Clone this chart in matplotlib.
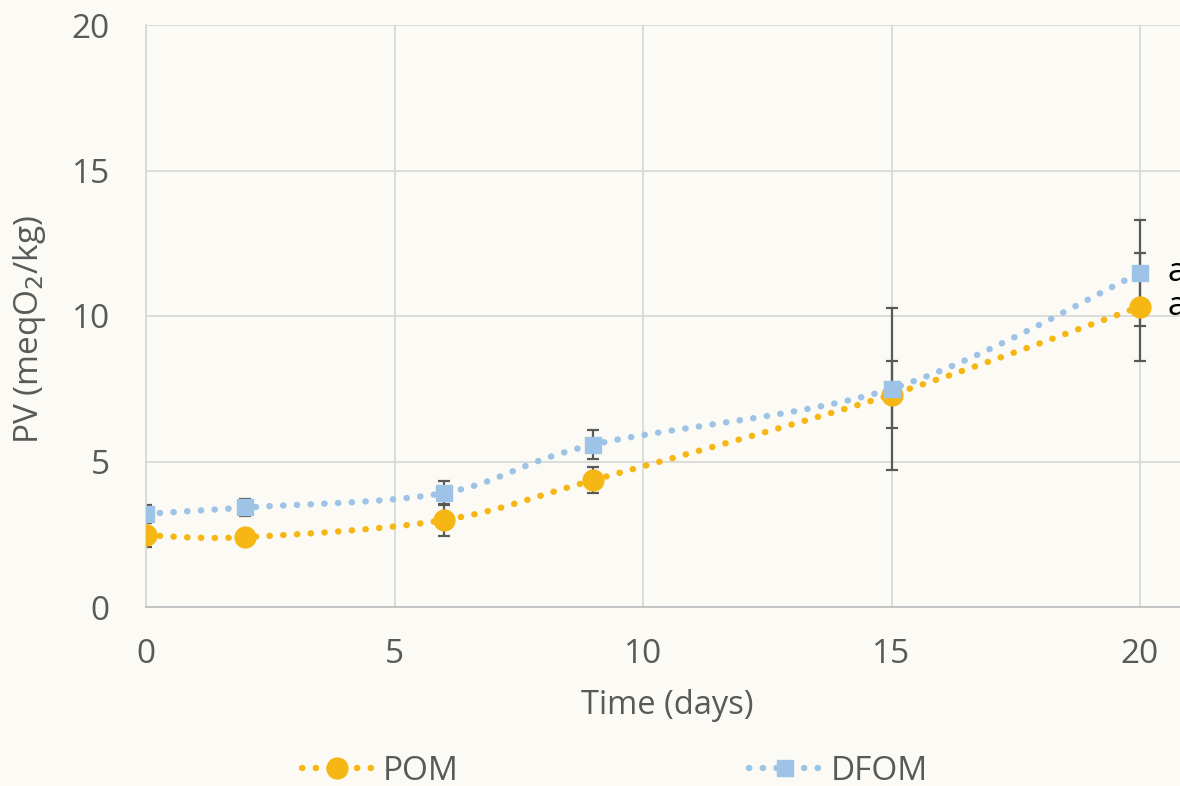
import matplotlib.pyplot as plt
import numpy as np

plt.rcParams['font.family'] = ['Open Sans', 'DejaVu Sans']

# data
days = [0, 2, 6, 9, 15, 20]
pom = [2.47, 2.4, 2.99, 4.36, 7.3, 10.32]
pom_err = [0.4, 0.15, 0.55, 0.45, 1.15, 1.85]
dfom = [3.2, 3.42, 3.92, 5.58, 7.5, 11.48]
dfom_err = [0.3, 0.29, 0.4, 0.5, 2.79, 1.83]
labels_end = ['a', 'a']

bg = '#FBFAF4'
c_pom = '#F6B614'
c_dfom = '#9DC3E6'
txt = '#595959'


def smooth(x, y, n=40):
    # Excel-style smoothed line (cubic bezier through the points)
    x = np.asarray(x, float)
    y = np.asarray(y, float)
    P = np.column_stack([x, y])
    P = np.vstack([P[0], P, P[-1]])
    out = []
    t = np.linspace(0, 1, n)[:, None]
    for i in range(1, len(P) - 2):
        p0, p1, p2, p3 = P[i - 1], P[i], P[i + 1], P[i + 2]
        c1 = p1 + (p2 - p0) / 6
        c2 = p2 - (p3 - p1) / 6
        seg = ((1 - t) ** 3) * p1 + 3 * ((1 - t) ** 2) * t * c1 + 3 * (1 - t) * t ** 2 * c2 + t ** 3 * p2
        out.append(seg)
    s = np.vstack(out)
    return s[:, 0], s[:, 1]


fig = plt.figure(figsize=(11.8, 7.86), dpi=100, facecolor=bg)
ax = fig.add_axes([146 / 1180, (786 - 607) / 786, (1180 - 146) / 1180, (607 - 25) / 786])
ax.set_facecolor(bg)

dot = (0, (0.05, 2.1))
lw = 4.6

ax.errorbar(days, pom, yerr=pom_err, fmt='none', ecolor=txt, elinewidth=1.6, capsize=4.5, capthick=1.6, zorder=2)
ax.errorbar(days, dfom, yerr=dfom_err, fmt='none', ecolor=txt, elinewidth=1.6, capsize=4.5, capthick=1.6, zorder=2)

sx, sy = smooth(days, pom)
ax.plot(sx, sy, color=c_pom, lw=lw, linestyle=dot, dash_capstyle='round', zorder=3)
sx, sy = smooth(days, dfom)
ax.plot(sx, sy, color=c_dfom, lw=lw, linestyle=dot, dash_capstyle='round', zorder=3)
ax.plot(days, pom, 'o', color=c_pom, ms=15, mec=c_pom, zorder=4)
ax.plot(days, dfom, 's', color=c_dfom, ms=11.5, mec=c_dfom, zorder=4)

ax.text(20.55, dfom[-1], labels_end[0], fontsize=24, color='black', va='center', ha='left')
ax.text(20.55, pom[-1], labels_end[1], fontsize=24, color='black', va='center', ha='left')

ax.set_xlim(0, (1180 - 146) / 49.7)
ax.set_ylim(0, 20)
ax.set_xticks([0, 5, 10, 15, 20])
ax.set_yticks([0, 5, 10, 15, 20])
ax.grid(True, color='#D9D9D9', lw=1.3)
ax.set_axisbelow(True)
for s in ['top', 'right']:
    ax.spines[s].set_visible(False)
ax.spines['left'].set_color('#D9D9D9')
ax.spines['left'].set_linewidth(1.3)
ax.spines['bottom'].set_color('#BFBFBF')
ax.spines['bottom'].set_linewidth(1.3)
ax.tick_params(length=0, labelsize=24, labelcolor=txt)
ax.tick_params(axis='x', pad=22)
ax.tick_params(axis='y', pad=26)

fig.text(667 / 1180, (786 - 705) / 786, 'Time (days)', fontsize=23.5, color=txt, ha='center', va='center')
fig.text(30 / 1180, (786 - 329) / 786, 'PV (meqO$_2$/kg)', fontsize=24, color=txt, ha='center', va='center', rotation=90)

# legend
h1, = ax.plot([], [], color=c_pom, lw=lw, linestyle=dot, dash_capstyle='round', marker='o', ms=15)
h2, = ax.plot([], [], color=c_dfom, lw=lw, linestyle=dot, dash_capstyle='round', marker='s', ms=11.5)
fig.legend([h1, h2], ['POM', 'DFOM'], loc='center', bbox_to_anchor=(0.521, (786 - 771) / 786),
           ncol=2, frameon=False, fontsize=24, labelcolor=txt, columnspacing=8.7, handlelength=2.15,
           handletextpad=0.3)

plt.savefig('out.png', dpi=100, facecolor=bg)
